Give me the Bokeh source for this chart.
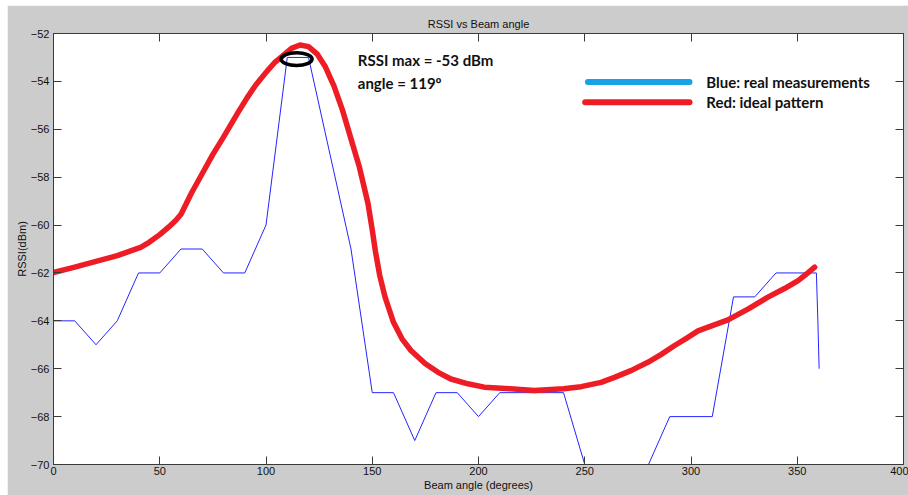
from bokeh.plotting import figure
from bokeh.models import Range1d, LinearAxis, Label, SingleIntervalTicker, CustomJSTickFormatter
from bokeh.embed import file_html
from bokeh.resources import INLINE

# ---------------- data ----------------
blue_angle = [0, 10, 20, 30, 40, 50, 60, 70, 80, 90, 100, 110, 120, 130, 140,
              150, 160, 170, 180, 190, 200, 210, 220, 230, 240, 250, 260, 270,
              280, 290, 300, 310, 320, 330, 340, 350, 359, 359.7, 360.3]
blue_rssi = [-64, -64, -65, -64, -62, -62, -61, -61, -62, -62, -60, -53, -53, -57, -61,
             -67, -67, -69, -67, -67, -68, -67, -67, -67, -67, -70, -70, -70,
             -70, -68, -68, -68, -63, -63, -62, -62, -62, -64, -66]

red_angle = [0, 10, 20, 30, 35, 41, 45, 50, 54, 57.5, 60, 65, 70.8, 75, 80, 86.5, 91,
             95, 100.7, 104, 108, 112, 116, 120, 124, 128, 132, 136, 140, 144, 148,
             150, 151.5, 153.5, 156, 160, 164, 168.2, 175, 181, 187, 195, 202.7, 215,
             226.3, 240, 248.3, 257.7, 264, 272, 279.7, 286, 292.3, 298, 303.3, 310,
             317.4, 327, 336.2, 344, 350.4, 355, 358.2]
red_rssi = [-61.98, -61.76, -61.52, -61.28, -61.12, -60.93, -60.72, -60.4, -60.1, -59.81,
            -59.55, -58.65, -57.72, -57.05, -56.33, -55.35, -54.7, -54.17, -53.55, -53.22,
            -52.92, -52.62, -52.48, -52.55, -52.85, -53.4, -54.2, -55.2, -56.4, -57.6,
            -59.1, -60.2, -61.1, -62.1, -63.0, -64.06, -64.75, -65.24, -65.79, -66.15,
            -66.43, -66.63, -66.77, -66.84, -66.91, -66.84, -66.75, -66.57, -66.36,
            -66.07, -65.73, -65.4, -65.03, -64.72, -64.42, -64.2, -63.96, -63.5, -63.01,
            -62.65, -62.32, -62.0, -61.76]

max_angle = [114.4]
max_rssi = [-53.07]

title_text = "RSSI vs Beam angle"
x_label = "Beam angle (degrees)"
y_label = "RSSI(dBm)"
note_lines = ["RSSI max = -53 dBm", "angle = 119\u00ba"]
legend_labels = ["Blue: real measurements", "Red: ideal pattern"]
legend_colors = ["#16a2e6", "#ee1c25"]

# ---------------- figure ----------------
GREY = "#cccccc"
AX = "#3a3a3a"
TICK_FONT = "Liberation Sans"
NOTE_FONT = "Lato"

p = figure(width=901, height=490, output_backend="svg", toolbar_location=None,
           x_range=Range1d(0, 400), y_range=Range1d(-70, -52),
           min_border_left=46, min_border_right=5, min_border_top=28, min_border_bottom=31,
           background_fill_color="white", border_fill_color=GREY,
           title=title_text)
p.margin = (5, 0, 0, 7)
p.grid.visible = False
p.outline_line_color = AX

p.title.align = "center"
p.title.text_font = TICK_FONT
p.title.text_font_size = "11px"
p.title.text_font_style = "normal"
p.title.text_color = "#111111"
p.title.standoff = 7

p.xaxis.ticker = SingleIntervalTicker(interval=50)
p.yaxis.ticker = SingleIntervalTicker(interval=2)


def style_axis(ax):
    ax.axis_line_color = AX
    ax.major_tick_line_color = AX
    ax.major_tick_in = 8
    ax.major_tick_out = 0
    ax.minor_tick_in = 0
    ax.minor_tick_out = 0
    ax.major_label_text_font = TICK_FONT
    ax.major_label_text_font_size = "11px"
    ax.major_label_text_color = "#111111"
    ax.axis_label_text_font = TICK_FONT
    ax.axis_label_text_font_size = "11px"
    ax.axis_label_text_font_style = "normal"
    ax.axis_label_text_color = "#111111"


for ax in p.xaxis:
    style_axis(ax)
    ax.axis_label = x_label
    ax.major_label_standoff = 2
    ax.axis_label_standoff = 1
for ax in p.yaxis:
    style_axis(ax)
    ax.axis_label = y_label
    ax.major_label_standoff = 4
    ax.axis_label_standoff = 0

blank = CustomJSTickFormatter(code="return ''")
top_ax = LinearAxis(ticker=SingleIntervalTicker(interval=50), formatter=blank)
style_axis(top_ax)
top_ax.major_label_standoff = 0
right_ax = LinearAxis(ticker=SingleIntervalTicker(interval=2), formatter=blank)
style_axis(right_ax)
right_ax.major_label_standoff = 0
p.add_layout(top_ax, "above")
p.add_layout(right_ax, "right")

# ---------------- data marks ----------------
p.line(blue_angle, blue_rssi, line_color="#2424ff", line_width=1)
p.line(red_angle, red_rssi, line_color="#ee1c25", line_width=5.5,
       line_join="round", line_cap="round")
p.ellipse(x=max_angle, y=max_rssi, width=14.6, height=0.54,
          fill_color=None, line_color="black", line_width=3.5)

# ---------------- annotations ----------------
for txt, yy in zip(note_lines, [-53.1, -54.05]):
    p.add_layout(Label(x=143.2, y=yy, text=txt, text_font=NOTE_FONT,
                       text_font_size="15px", text_font_style="bold", text_color="#111111",
                       text_baseline="middle"))

# hand-drawn legend (thick strokes with bold labels)
leg_y = [-54.03, -54.87]
leg_x0 = [251.5, 250.2]
leg_x1 = [299.3, 299.3]
p.segment(x0=leg_x0, y0=leg_y, x1=leg_x1, y1=leg_y, line_color=legend_colors,
          line_width=6, line_cap="round")
for txt, yy in zip(legend_labels, leg_y):
    p.add_layout(Label(x=307.2, y=yy, text=txt, text_font=NOTE_FONT,
                       text_font_size="15px", text_font_style="bold", text_color="#111111",
                       text_baseline="middle"))

open("out.html", "w").write(file_html(p, INLINE))
